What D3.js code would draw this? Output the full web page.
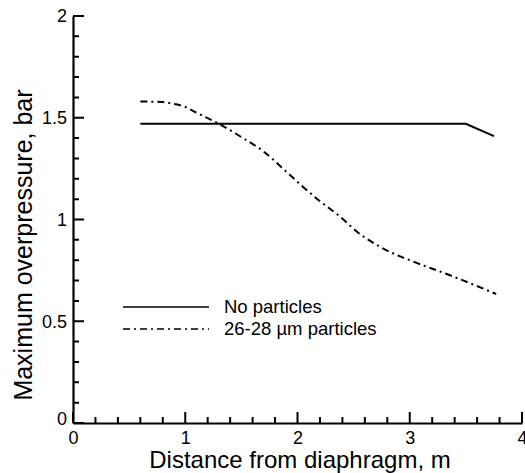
<!doctype html>
<html lang="en">
<head>
    <meta charset="UTF-8">
    <title>Maximum overpressure</title>
    <style>
        body { margin: 0; background: #fff; }
        svg text { font-family: "Liberation Sans", Arial, sans-serif; fill: #000; }
    </style>
</head>
<body>
<div class="canvas"></div>
<script src="https://d3js.org/d3.v7.min.js"></script>
<script>
    // data
    const noPartX = [0.6, 3.5, 3.75];
    const noPartY = [1.47, 1.47, 1.41];
    const partX = [0.6, 0.8, 0.9, 1.0, 1.1, 1.2, 1.3, 1.5, 1.7, 1.9, 2.05, 2.2, 2.38, 2.53, 2.76, 3.0, 3.33, 3.54, 3.77];
    const partY = [1.58, 1.577, 1.568, 1.553, 1.525, 1.498, 1.47, 1.405, 1.333, 1.235, 1.16, 1.09, 1.014, 0.94, 0.858, 0.80, 0.732, 0.686, 0.634];
    const seriesNames = ['No particles', '26-28 \u00b5m particles'];
    const xTicks = [0, 1, 2, 3, 4];
    const yTicks = [0, 0.5, 1, 1.5, 2];

    const svgWidth = 525;
    const svgHeight = 473;
    const margin = { top: 16, right: 3, bottom: 50, left: 73 };
    const graphWidth = svgWidth - margin.left - margin.right;
    const graphHeight = svgHeight - margin.top - margin.bottom;

    const svg = d3.select('.canvas').append('svg')
        .attr('width', svgWidth)
        .attr('height', svgHeight);
    const graph = svg.append('g')
        .attr('transform', `translate(${margin.left}, ${margin.top})`);

    const x = d3.scaleLinear().domain([0, 4]).range([0, graphWidth]);
    const y = d3.scaleLinear().domain([0, 2]).range([graphHeight, 0]);

    const xMinor = d3.range(0, 4.001, 0.2).filter(v => Math.abs(v - Math.round(v)) > 1e-6);
    const yMinor = d3.range(0, 2.001, 0.1).filter(v => Math.abs(v * 2 - Math.round(v * 2)) > 1e-6);

    // inward tick marks, one path
    const tickData = xTicks.map(v => ['x', v, 11]).concat(xMinor.map(v => ['x', v, 6]))
        .concat(yTicks.map(v => ['y', v, 11])).concat(yMinor.map(v => ['y', v, 6]));
    const tickPath = d3.path();
    tickData.forEach(([axis, v, len]) => {
        if (axis === 'x') {
            tickPath.moveTo(x(v), graphHeight);
            tickPath.lineTo(x(v), graphHeight - len);
        } else {
            tickPath.moveTo(0, y(v));
            tickPath.lineTo(len, y(v));
        }
    });
    graph.append('path')
        .attr('d', tickPath.toString())
        .attr('fill', 'none')
        .attr('stroke', '#000')
        .attr('stroke-width', 2);

    // axis lines and labels
    const xAxisGroup = graph.append('g')
        .attr('transform', `translate(0, ${graphHeight})`)
        .call(d3.axisBottom(x).tickValues(xTicks).tickSize(0).tickPadding(8).tickFormat(d3.format('d')));
    const yAxisGroup = graph.append('g')
        .call(d3.axisLeft(y).tickValues(yTicks).tickSize(0).tickPadding(6).tickFormat(d => d));

    graph.selectAll('.domain').attr('stroke', '#000').attr('stroke-width', 2.2);
    xAxisGroup.selectAll('text').attr('font-size', 18).attr('dy', '0.71em');
    yAxisGroup.selectAll('text').attr('font-size', 18);
    yAxisGroup.selectAll('.tick').filter(d => d === 0).select('text').attr('dy', '0.1em');

    // data lines
    const line = d3.line().x(d => x(d[0])).y(d => y(d[1]));
    const curve = d3.line().x(d => x(d[0])).y(d => y(d[1])).curve(d3.curveMonotoneX);

    graph.append('path')
        .datum(d3.zip(noPartX, noPartY))
        .attr('d', line)
        .attr('fill', 'none')
        .attr('stroke', '#000')
        .attr('stroke-width', 2);

    graph.append('path')
        .datum(d3.zip(partX, partY))
        .attr('d', curve)
        .attr('fill', 'none')
        .attr('stroke', '#000')
        .attr('stroke-width', 2)
        .attr('stroke-dasharray', '7,4,2,4');

    // legend
    const legend = svg.append('g').attr('transform', 'translate(123, 307)');
    seriesNames.forEach((name, i) => {
        legend.append('line')
            .attr('x1', 0).attr('x2', 86)
            .attr('y1', i * 22).attr('y2', i * 22)
            .attr('stroke', '#000')
            .attr('stroke-width', 1.5)
            .attr('stroke-dasharray', i === 0 ? null : '7,4,2,4');
        legend.append('text')
            .attr('x', 101).attr('y', i * 22)
            .attr('dy', '0.35em')
            .attr('font-size', 18.5)
            .text(name);
    });

    // axis titles
    svg.append('text')
        .attr('x', 300).attr('y', 468)
        .attr('text-anchor', 'middle')
        .attr('font-size', 24)
        .text('Distance from diaphragm, m');
    svg.append('text')
        .attr('transform', 'translate(32, 245) rotate(-90)')
        .attr('text-anchor', 'middle')
        .attr('font-size', 25)
        .text('Maximum overpressure, bar');
</script>
</body>
</html>
